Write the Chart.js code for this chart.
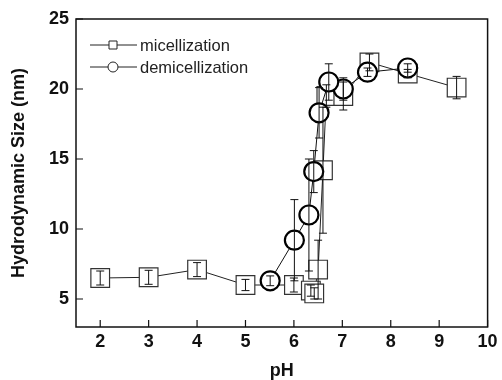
<!DOCTYPE html>
<html>
<head>
<meta charset="utf-8">
<script src="https://cdn.jsdelivr.net/npm/chart.js@4.4.1/dist/chart.umd.min.js"></script>
<style>
  html, body { margin: 0; padding: 0; background: #fff; }
  #wrap { width: 502px; height: 380px; }
</style>
</head>
<body>
<div id="wrap"><canvas id="chart"></canvas></div>
<script>
// micellization (squares)
const phMic = [2, 3, 4, 5, 6, 6.35, 6.42, 6.5, 6.6, 6.67, 7.02, 7.56, 8.35, 9.36];
const sizeMic = [6.5, 6.55, 7.1, 6.0, 6.0, 5.6, 5.4, 7.1, 14.2, 19.5, 19.5, 21.9, 21.1, 20.1];
const errMic = [0.5, 0.5, 0.5, 0.4, 0.5, 0.4, 0.4, 2.1, 4.5, 0.8, 1.0, 0.6, 0.3, 0.8];

// demicellization (circles)
const phDemic = [8.35, 7.52, 7.02, 6.72, 6.52, 6.41, 6.31, 6.01, 5.51];
const sizeDemic = [21.5, 21.2, 20.0, 20.5, 18.3, 14.1, 11.0, 9.2, 6.3];
const errDemic = [0.3, 0.3, 0.8, 1.3, 1.8, 1.5, 4.0, 2.9, 0.35];

const xTicks = [2, 3, 4, 5, 6, 7, 8, 9, 10];
const yTicks = [5, 10, 15, 20, 25];
const seriesNames = ['micellization', 'demicellization'];

function toPoints(xs, ys, errs) {
    return xs.map((x, i) => ({ x: x, y: ys[i], err: errs[i] }));
}

// error bars, inner ticks, frame, legend
const extras = {
    id: 'extras',
    afterDatasetsDraw(chart) {
        const ctx = chart.ctx;
        const xs = chart.scales.x, ys = chart.scales.y;
        ctx.save();
        ctx.strokeStyle = '#111';
        ctx.lineWidth = 1;
        chart.data.datasets.forEach(ds => {
            ds.data.forEach(p => {
                const px = xs.getPixelForValue(p.x);
                const top = ys.getPixelForValue(p.y + p.err);
                const bot = ys.getPixelForValue(p.y - p.err);
                ctx.beginPath();
                ctx.moveTo(px, top); ctx.lineTo(px, bot);
                ctx.moveTo(px - 4, top); ctx.lineTo(px + 4, top);
                ctx.moveTo(px - 4, bot); ctx.lineTo(px + 4, bot);
                ctx.stroke();
            });
        });
        ctx.restore();
    },
    afterDraw(chart) {
        const ctx = chart.ctx;
        const a = chart.chartArea;
        const xs = chart.scales.x, ys = chart.scales.y;
        ctx.save();
        ctx.strokeStyle = '#111';
        ctx.lineWidth = 1.5;
        ctx.strokeRect(a.left, a.top, a.right - a.left, a.bottom - a.top);
        ctx.lineWidth = 1.2;
        ctx.beginPath();
        xTicks.forEach(v => {
            const px = xs.getPixelForValue(v);
            ctx.moveTo(px, a.bottom); ctx.lineTo(px, a.bottom - 7);
        });
        yTicks.forEach(v => {
            const py = ys.getPixelForValue(v);
            ctx.moveTo(a.left, py); ctx.lineTo(a.left + 7, py);
        });
        ctx.stroke();

        // legend: line - marker - line
        ctx.font = '16.5px "Liberation Sans", Arial, sans-serif';
        ctx.textBaseline = 'middle';
        const rows = [45, 67];
        rows.forEach((ry, i) => {
            ctx.strokeStyle = '#222';
            ctx.lineWidth = 1;
            ctx.beginPath();
            ctx.moveTo(90, ry); ctx.lineTo(137, ry);
            ctx.stroke();
            ctx.fillStyle = '#fff';
            ctx.beginPath();
            if (i === 0) {
                ctx.rect(109, ry - 4, 8, 8);
            } else {
                ctx.arc(113, ry, 5, 0, Math.PI * 2);
            }
            ctx.fill();
            ctx.stroke();
            ctx.fillStyle = '#222';
            ctx.fillText(seriesNames[i], 140, ry + 1);
        });
        ctx.restore();
    }
};

const ctx = document.getElementById('chart');
new Chart(ctx, {
    type: 'scatter',
    data: {
        datasets: [
            {
                label: seriesNames[0],
                data: toPoints(phMic, sizeMic, errMic),
                showLine: true,
                borderColor: '#222',
                borderWidth: 1,
                pointStyle: 'rect',
                pointRadius: 13.2,
                pointBorderWidth: 1.2,
                pointBorderColor: '#333',
                pointBackgroundColor: '#fff',
                order: 1
            },
            {
                label: seriesNames[1],
                data: toPoints(phDemic, sizeDemic, errDemic),
                showLine: true,
                borderColor: '#111',
                borderWidth: 1,
                pointStyle: 'circle',
                pointRadius: 9.5,
                pointBorderWidth: 2.2,
                pointBorderColor: '#000',
                pointBackgroundColor: '#fff',
                order: 0
            }
        ]
    },
    options: {
        responsive: true,
        maintainAspectRatio: false,
        animation: false,
        layout: { padding: { left: 0, top: 19, right: 10.5, bottom: 0 } },
        plugins: {
            legend: { display: false },
            tooltip: { enabled: false }
        },
        scales: {
            x: {
                type: 'linear',
                min: 1.5,
                max: 10,
                afterBuildTicks: s => { s.ticks = xTicks.map(v => ({ value: v })); },
                afterFit: s => { s.height = 53; },
                grid: { display: false, drawTicks: false },
                border: { display: false },
                ticks: {
                    padding: 4,
                    color: '#111',
                    font: { family: '"Liberation Sans", Arial, sans-serif', size: 18, weight: 'bold' }
                },
                title: {
                    display: true,
                    text: 'pH',
                    color: '#111',
                    padding: 0,
                    font: { family: '"Liberation Sans", Arial, sans-serif', size: 18, weight: 'bold', lineHeight: 1 }
                }
            },
            y: {
                type: 'linear',
                min: 3,
                max: 25,
                afterBuildTicks: s => { s.ticks = yTicks.map(v => ({ value: v })); },
                afterFit: s => { s.width = 76; },
                grid: { display: false, drawTicks: false },
                border: { display: false },
                ticks: {
                    padding: 7,
                    color: '#111',
                    font: { family: '"Liberation Sans", Arial, sans-serif', size: 18, weight: 'bold' }
                },
                title: {
                    display: true,
                    text: 'Hydrodynamic Size (nm)',
                    color: '#111',
                    padding: { top: 10 },
                    font: { family: '"Liberation Sans", Arial, sans-serif', size: 18, weight: 'bold', lineHeight: 1 }
                }
            }
        }
    },
    plugins: [extras]
});
</script>
</body>
</html>
